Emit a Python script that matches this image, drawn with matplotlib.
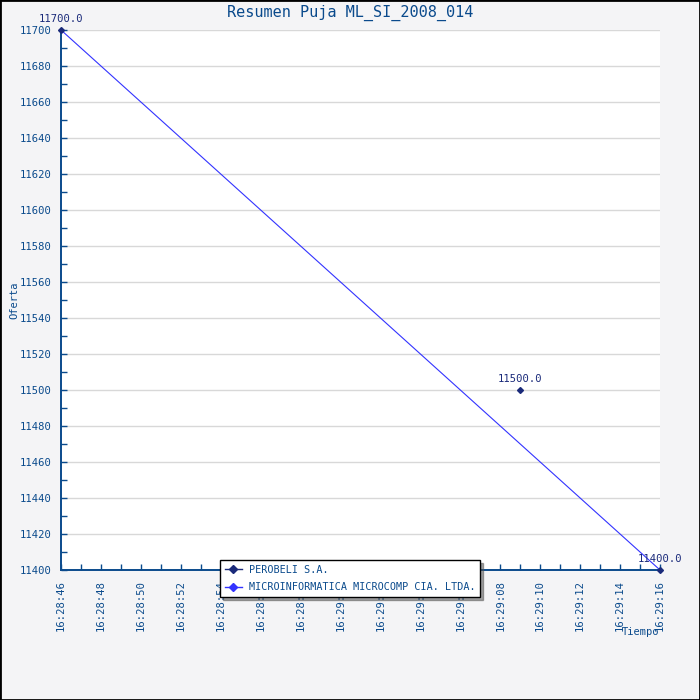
"""Resumen Puja ML_SI_2008_014 - bid summary chart."""

from datetime import datetime

import matplotlib.pyplot as plt
import matplotlib.dates as mdates
from matplotlib.lines import Line2D
from matplotlib.ticker import MultipleLocator

BLUE_TXT = "#0a4a8c"
NAVY = "#1a2a7a"
BRIGHT = "#3333ff"
BG = "#f4f4f6"

DAY = "2008-01-01 "
perobeli_times = ["16:29:09"]
perobeli_values = [11500.0]
micro_times = ["16:28:46", "16:29:16"]
micro_values = [11700.0, 11400.0]
x_start, x_end = "16:28:46", "16:29:16"
labels = ["PEROBELI S.A.", "MICROINFORMATICA MICROCOMP CIA. LTDA."]


def to_dt(t):
    return datetime.strptime(DAY + t, "%Y-%m-%d %H:%M:%S")


def main() -> None:
    plt.rcParams["font.family"] = ["DejaVu Sans Mono"]
    fig = plt.figure(figsize=(7, 7), dpi=100, facecolor=BG)
    fig.patches.append(plt.Rectangle((0, 0), 1, 1, transform=fig.transFigure,
                                     fill=False, edgecolor="black", linewidth=2))
    ax = fig.add_axes([61 / 700, 1 - 570 / 700, 599 / 700, 540 / 700])
    ax.set_facecolor("white")

    px = [to_dt(t) for t in perobeli_times]
    mx = [to_dt(t) for t in micro_times]
    ax.plot(px, perobeli_values, color=NAVY, marker="D", markersize=3,
            linewidth=0.8, clip_on=False, zorder=4)
    ax.plot(mx, micro_values, color=BRIGHT, marker="D", markersize=3,
            markerfacecolor=NAVY, markeredgecolor=NAVY,
            linewidth=0.8, clip_on=False, zorder=3)

    for x, v in zip(px + mx, perobeli_values + micro_values):
        ax.annotate(f"{v:.1f}", (x, v), xytext=(0, 4), textcoords="offset points",
                    ha="center", va="bottom", fontsize=7.6, color=NAVY,
                    annotation_clip=False)

    ax.set_xlim(to_dt(x_start), to_dt(x_end))
    ax.set_ylim(11400, 11700)
    ax.yaxis.set_major_locator(MultipleLocator(20))
    ax.yaxis.set_minor_locator(MultipleLocator(10))
    ax.xaxis.set_major_locator(mdates.SecondLocator(bysecond=range(0, 60, 2)))
    ax.xaxis.set_minor_locator(mdates.SecondLocator())
    ax.xaxis.set_major_formatter(mdates.DateFormatter("%H:%M:%S"))
    ax.grid(axis="y", which="major", color="#d8d8d8", linewidth=1)
    ax.set_axisbelow(True)

    for side in ("top", "right"):
        ax.spines[side].set_visible(False)
    for side in ("left", "bottom"):
        ax.spines[side].set_color(BLUE_TXT)
        ax.spines[side].set_linewidth(1.4)
    ax.tick_params(which="both", colors=BLUE_TXT, labelsize=7.6,
                   direction="in", length=4, width=1, pad=7)
    ax.tick_params(axis="x", labelrotation=90)

    fig.text(0.5, 1 - 13 / 700, "Resumen Puja ML_SI_2008_014", color=BLUE_TXT,
             fontsize=11, ha="center", va="center")
    fig.text(14 / 700, 1 - 300 / 700, "Oferta", rotation=90, color=BLUE_TXT,
             fontsize=7.5, ha="center", va="center")
    fig.text(659 / 700, 1 - 632 / 700, "Tiempo", color=BLUE_TXT,
             fontsize=7.5, ha="right", va="center")

    handles = [
        Line2D([], [], color=NAVY, marker="D", markersize=4, linewidth=1),
        Line2D([], [], color=BRIGHT, marker="D", markersize=4, linewidth=1),
    ]
    leg = fig.legend(handles=handles, labels=labels, loc="upper left",
                     bbox_to_anchor=(220 / 700, 1 - 560 / 700), fontsize=7.3,
                     frameon=True, fancybox=False, shadow=True,
                     edgecolor="black", borderpad=0.45, labelspacing=0.75,
                     handlelength=1.7, handletextpad=0.7, borderaxespad=0)
    leg.get_frame().set_linewidth(1)
    for text in leg.get_texts():
        text.set_color(BLUE_TXT)

    fig.savefig("out.png", dpi=100, facecolor=BG)
    plt.close(fig)


if __name__ == "__main__":
    main()
